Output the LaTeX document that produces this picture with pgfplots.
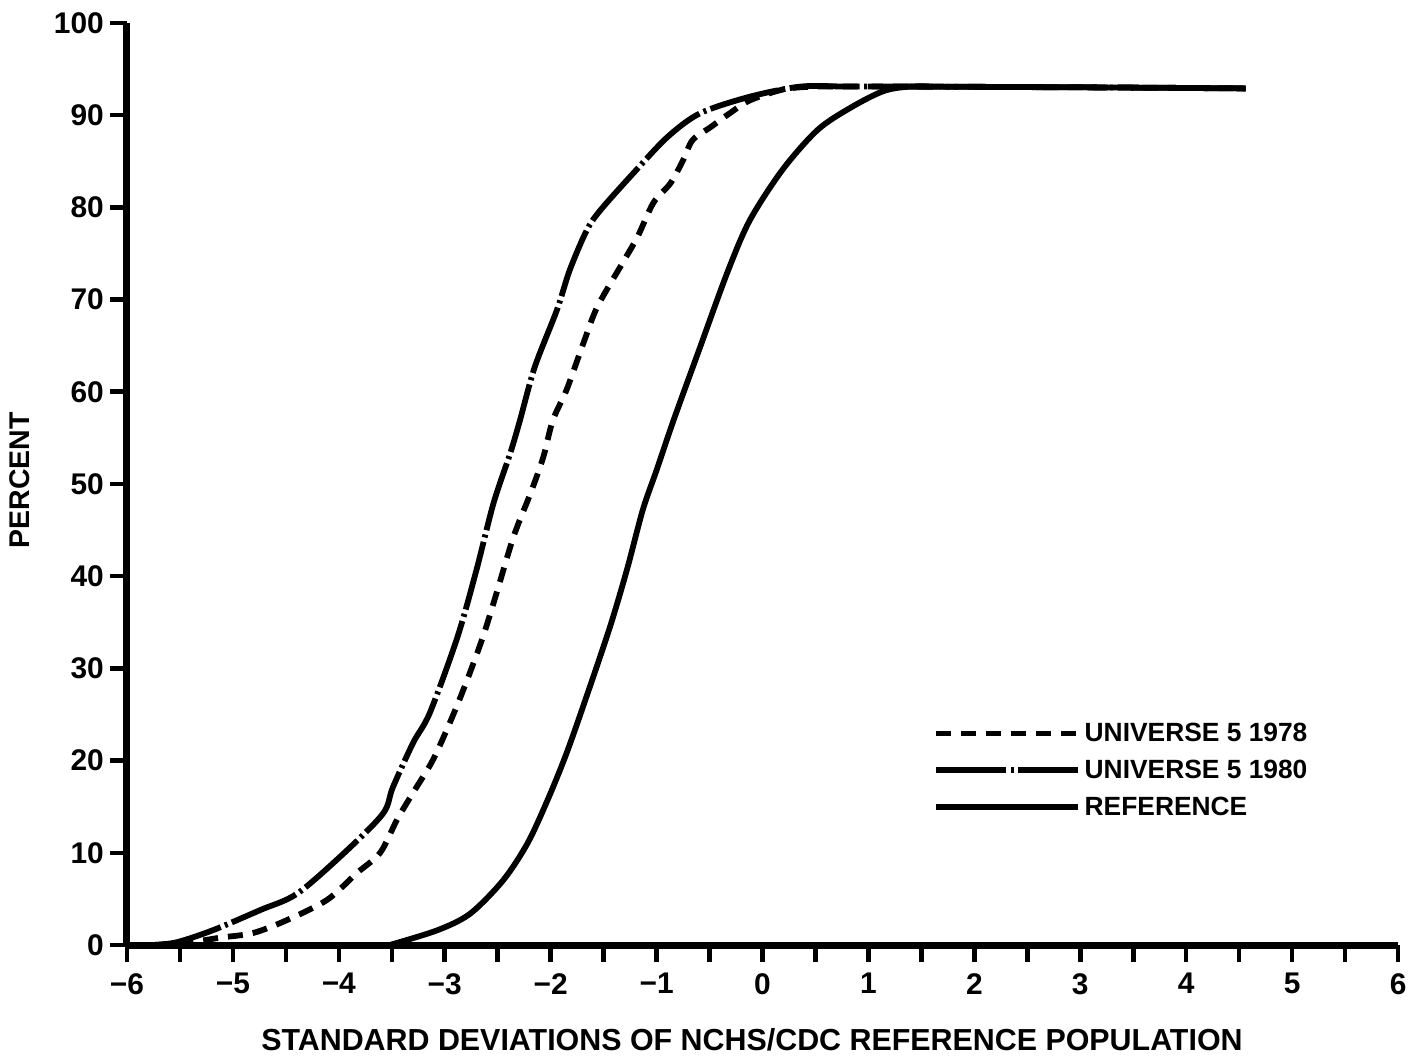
\documentclass[border=0pt]{standalone}
\usepackage{pgfplots}
\pgfplotsset{compat=1.18}
\usepackage{fontspec}
\setmainfont{Liberation Sans}
\newcommand{\lblfont}{\bfseries\fontsize{15}{18}\selectfont}
\newcommand{\tickfont}{\bfseries\fontsize{17}{20}\selectfont}
\newcommand{\xlabfont}{\bfseries\fontsize{17.3}{20}\selectfont}
\newcommand{\ylabfont}{\bfseries\fontsize{16.2}{20}\selectfont}
\begin{document}
\begin{tikzpicture}
\begin{axis}[
  scale only axis,
  width=25.42cm, height=18.44cm,
  xmin=-6, xmax=6, ymin=0, ymax=100,
  clip=false,
  axis x line*=bottom, axis y line*=left,
  axis line style={-, line width=4pt, black},
  xtick={-6,-5,...,6},
  xticklabels={−6,−5,−4,−3,−2,−1,0,1,2,3,4,5,6},
  minor x tick num=1,
  ytick={0,10,...,100},
  yticklabels={0,10,20,30,40,50,60,70,80,90,100},
  tick align=outside,
  major tick length=0.34cm, minor tick length=0.34cm,
  every tick/.style={line width=2.6pt, black},
  ticklabel style={font=\tickfont},
  xticklabel style={yshift=-0.1cm},
  xlabel={STANDARD DEVIATIONS OF NCHS/CDC REFERENCE POPULATION},
  ylabel={PERCENT},
  xlabel style={at={(rel axis cs:0.4917,-0.103)}, anchor=center, font=\xlabfont},
  ylabel style={at={(rel axis cs:-0.0842,0.504)}, anchor=center, rotate=0, font=\ylabfont},
  legend style={at={(rel axis cs:0.630,0.246)}, anchor=north west, draw=none, fill=none,
    font=\lblfont, row sep=8pt,
    nodes={inner ysep=0pt, text height=11pt, text depth=2pt}},
  legend cell align=left,
  legend image code/.code={\draw[#1] (0cm,0cm) -- (2.5cm,0cm); \path (2.5cm,0cm) -- (2.84cm,0cm);},
]
\path (rel axis cs:-0.0999,-0.1258) rectangle (rel axis cs:1.0157,1.0249);

\addplot[black, line width=3.3pt, smooth, tension=0.5, dash pattern=on 0.3cm off 0.2cm] coordinates {
(-5.75,0) (-5.40,0.3) (-5.12,0.8) (-4.81,1.3) (-4.49,2.7) (-4.11,4.9)
(-3.83,7.8) (-3.61,10.0) (-3.45,13.6) (-3.30,16.5) (-3.11,20.1) (-2.93,24.7)
(-2.79,28.7) (-2.64,33.4) (-2.51,38.2) (-2.35,44.3) (-2.19,49.0) (-2.07,52.9)
(-1.98,56.9) (-1.85,60.2) (-1.69,65.3) (-1.56,69.2) (-1.32,74.0) (-1.18,76.8)
(-1.03,80.5) (-0.87,82.6) (-0.75,85.1) (-0.66,87.3) (-0.49,88.7) (-0.31,90.2)
(-0.12,91.6) (0.2,92.8) (0.5,93.1) (0.9,93.1) (1.3,93.1) (1.8,93.08) (2.4,93.05)
(3.0,93.02) (3.6,92.98) (4.1,92.94) (4.56,92.9)
};
\addlegendentry{UNIVERSE 5 1978}

\addplot[black, line width=3.3pt, smooth, tension=0.5, dash pattern=on 1.4cm off 0.09cm on 0.06cm off 0.09cm] coordinates {
(-5.75,0) (-5.53,0.3) (-5.19,1.6) (-4.74,3.8) (-4.39,5.6) (-3.92,10.3)
(-3.58,14.3) (-3.49,17.1) (-3.30,21.9) (-3.14,25.2) (-2.88,33.4) (-2.70,40.7)
(-2.54,47.9) (-2.38,53.4) (-2.29,56.9) (-2.15,62.7) (-1.94,68.9) (-1.82,73.2)
(-1.66,77.5) (-1.53,79.7) (-1.22,83.7) (-0.90,87.6) (-0.59,90.2) (-0.12,92.0)
(0.36,93.1) (0.8,93.1) (1.3,93.1) (1.8,93.08) (2.4,93.05)
(3.0,93.02) (3.6,92.98) (4.1,92.94) (4.56,92.9)
};
\addlegendentry{UNIVERSE 5 1980}

\addplot[black, line width=3.3pt, smooth, tension=0.5] coordinates {
(-3.52,0) (-3.07,1.6) (-2.76,3.4) (-2.45,7.0) (-2.22,11.0) (-2.03,15.7)
(-1.85,20.8) (-1.66,27.0) (-1.44,34.5) (-1.28,40.7) (-1.13,47.2) (-1.0,51.5)
(-0.84,56.9) (-0.6,64.5) (-0.33,73.0) (-0.12,78.6) (0.19,84.1) (0.52,88.4)
(0.83,90.8) (1.14,92.6) (1.40,93.1) (1.8,93.08) (2.4,93.05)
(3.0,93.02) (3.6,92.98) (4.1,92.94) (4.56,92.9)
};
\addlegendentry{REFERENCE}
\end{axis}
\end{tikzpicture}
\end{document}
